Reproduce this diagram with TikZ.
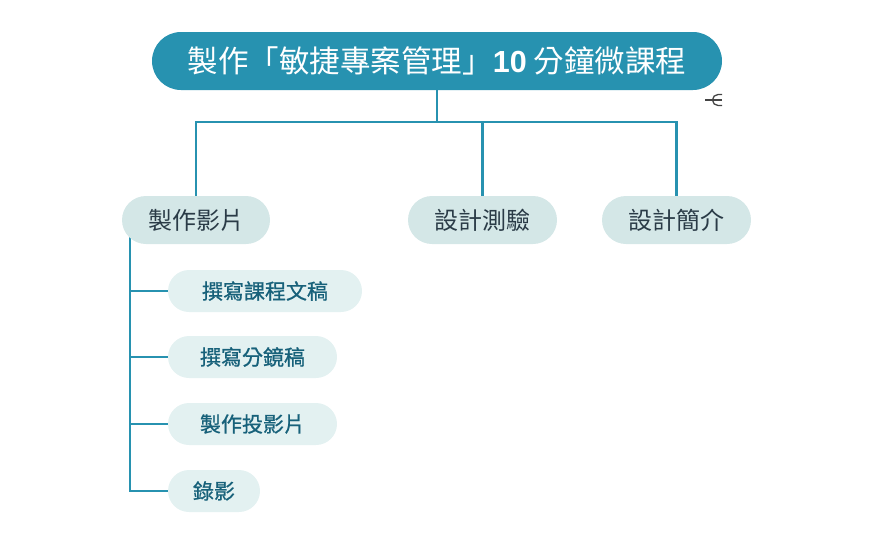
\documentclass[tikz,border=0pt]{standalone}
\usepackage{fontspec}
\newfontfamily\cjk{Noto Sans CJK TC}
\newfontfamily\cjkb[FakeBold=0.8]{Noto Sans CJK TC}
\newfontfamily\arialf{Liberation Sans}
\usetikzlibrary{backgrounds}
\definecolor{rootc}{HTML}{2792B0}
\definecolor{lonec}{HTML}{D4E7E7}
\definecolor{ltwoc}{HTML}{E3F1F1}
\definecolor{lonet}{HTML}{2A3B47}
\definecolor{ltwot}{HTML}{17617A}
\definecolor{iconc}{HTML}{444444}
\tikzset{
  rootbox/.style={fill=rootc, text=white, rounded corners=29pt, minimum height=58pt, inner sep=0pt, font=\cjk\fontsize{30.5}{35}\selectfont},
  lonebox/.style={fill=lonec, text=lonet, rounded corners=24pt, minimum height=48pt, inner sep=0pt, font=\cjk\fontsize{24}{28}\selectfont},
  ltwobox/.style={fill=ltwoc, text=ltwot, rounded corners=21pt, minimum height=42pt, inner sep=0pt, font=\cjkb\fontsize{21}{25}\selectfont},
  conn/.style={draw=rootc, line width=2.8pt},
  iconline/.style={draw=iconc, line width=1.3pt}
}
\begin{document}
\begin{tikzpicture}[x=1pt,y=-1pt]
\useasboundingbox (0,0) rectangle (872,544);
\node[rootbox, minimum width=570pt] (root) at (437,61) {製作「敏捷專案管理」{\arialf\bfseries 10} 分鐘微課程};
\node[lonebox, minimum width=148pt] (n1) at (196,220) {製作影片};
\node[lonebox, minimum width=149pt] (n2) at (482.5,220) {設計測驗};
\node[lonebox, minimum width=149pt] (n3) at (676.5,220) {設計簡介};
\node[ltwobox, minimum width=194pt] (c1) at (265,291) {撰寫課程文稿};
\node[ltwobox, minimum width=169pt] (c2) at (252.5,357) {撰寫分鏡稿};
\node[ltwobox, minimum width=169pt] (c3) at (252.5,424) {製作投影片};
\node[ltwobox, minimum width=92pt] (c4) at (214,491) {錄影};
\coordinate (bus) at (437,122);
\coordinate (vtop) at (130,236);
\begin{scope}[on background layer]
\draw[conn] (root.south) -- (bus) -| (n1.north);
\draw[conn] (bus) -| (n2.north);
\draw[conn] (bus) -| (n3.north);
\draw[conn] (vtop) |- (c4.west);
\draw[conn] (vtop |- c1.west) -- (c1.west);
\draw[conn] (vtop |- c2.west) -- (c2.west);
\draw[conn] (vtop |- c3.west) -- (c3.west);
\end{scope}
\draw[iconline] (705,100) -- (722,100);
\draw[iconline] (722,94.5) -- (718,94.5) arc(270:90:5.5) -- (722,105.5);
\end{tikzpicture}
\end{document}
